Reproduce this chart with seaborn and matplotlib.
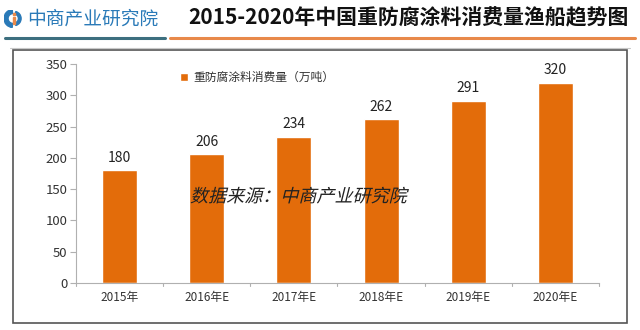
import matplotlib
matplotlib.use("Agg")
import matplotlib.pyplot as plt
import seaborn as sns
import pandas as pd
from matplotlib.patches import Rectangle, Wedge
from matplotlib.lines import Line2D
from matplotlib.patheffects import AbstractPathEffect
from matplotlib.transforms import Affine2D

years = ["2015年", "2016年E", "2017年E", "2018年E", "2019年E", "2020年E"]
values = [180, 206, 234, 262, 291, 320]
series_name = "重防腐涂料消费量（万吨）"
title = "2015-2020年中国重防腐涂料消费量渔船趋势图"
brand = "中商产业研究院"
watermark = "数据来源：中商产业研究院"
yticks = [0, 50, 100, 150, 200, 250, 300, 350]

sns.set_theme(style="white")
plt.rcParams['font.family'] = ['Noto Sans CJK SC', 'DejaVu Sans']

W, H = 640, 330
fig = plt.figure(figsize=(6.4, 3.3), dpi=100)


def fx(x):
    return x / W


def fy(y):
    return 1 - y / H


class Slant(AbstractPathEffect):
    """Draw text glyphs with a synthetic oblique slant."""
    def __init__(self, deg=14):
        super().__init__()
        self.deg = deg

    def draw_path(self, renderer, gc, tpath, affine, rgbFace=None):
        renderer.draw_path(gc, tpath, Affine2D().skew_deg(self.deg, 0) + affine, rgbFace)


# axes area
ax = fig.add_axes([fx(76), fy(283), fx(599) - fx(76), fy(64) - fy(283)])

df = pd.DataFrame({"year": years, "value": values, "series": series_name})
bar_color = "#E36C0A"
sns.barplot(data=df, x="year", y="value", hue="series", palette=[bar_color],
            width=0.4, ax=ax, legend=True, saturation=1)

ax.set_ylim(0, 350)
ax.set_yticks(yticks)
ax.set_xlim(-0.5, len(years) - 0.5)
ax.set_xlabel("")
ax.set_ylabel("")
for c in ax.containers:
    ax.bar_label(c, labels=[str(v) for v in values], padding=4, fontsize=10, color="#222222")

for s in ["top", "right"]:
    ax.spines[s].set_visible(False)
for s in ["left", "bottom"]:
    ax.spines[s].set_color("#b0b0b0")
    ax.spines[s].set_linewidth(0.8)
ax.tick_params(axis="y", labelsize=9.5, colors="#333333", length=4, width=0.8, direction="out", left=True, pad=2)
ax.tick_params(axis="x", labelsize=8.5, colors="#333333", length=0, pad=6)
ax.tick_params(axis="y", color="#b0b0b0")
# category boundary ticks on x axis
for i in range(len(years) + 1):
    ax.plot([i - 0.5, i - 0.5], [0, -5], color="#b0b0b0", lw=0.8, clip_on=False,
            transform=ax.transData)

leg = ax.legend(loc="upper left", bbox_to_anchor=(0.19, 0.99), frameon=False,
                fontsize=8.5, handlelength=0.7, handleheight=0.7, handletextpad=0.4,
                borderaxespad=0)
for t in leg.get_texts():
    t.set_color("#333333")

# watermark (slanted)
fig.text(fx(298), fy(197), watermark, ha="center", va="center", fontsize=13,
         color="#222222", path_effects=[Slant(14)])

# chart frame
fig.patches.append(Rectangle((fx(13), fy(323)), fx(627) - fx(13), fy(50) - fy(323),
                             transform=fig.transFigure, fill=False, edgecolor="#555555", lw=1.2))

# header lines
fig.add_artist(Line2D([fx(5), fx(165)], [fy(38), fy(38)], color="#3d6f7f", lw=2.2))
fig.add_artist(Line2D([fx(170), fx(635)], [fy(38), fy(38)], color="#E8894A", lw=2.2))
fig.add_artist(Line2D([fx(10), fx(630)], [fy(48), fy(48)], color="#c8c8c8", lw=0.8))

# logo icon
iax = fig.add_axes([fx(4), fy(29), fx(22) - fx(4), fy(8) - fy(29)])
iax.set_xlim(-1, 1)
iax.set_ylim(-1, 1)
iax.set_aspect("equal")
iax.axis("off")
iax.add_patch(Wedge((0, 0), 1.0, 95, 265, width=0.45, color="#2a7ab8"))
iax.add_patch(Wedge((0.1, 0), 0.8, -75, 75, width=0.3, color="#2a7ab8"))
iax.add_patch(Rectangle((-0.05, -0.6), 0.3, 0.8, color="#E8894A"))
iax.add_patch(Rectangle((-0.05, 0.35), 0.3, 0.25, color="#E8894A"))

fig.text(fx(27), fy(19), brand, ha="left", va="center", fontsize=13.5, color="#2a7ab8")
fig.text(fx(408), fy(18), title, ha="center", va="center", fontsize=15,
         fontweight="bold", color="#111111")

fig.savefig("out.png", dpi=100)
